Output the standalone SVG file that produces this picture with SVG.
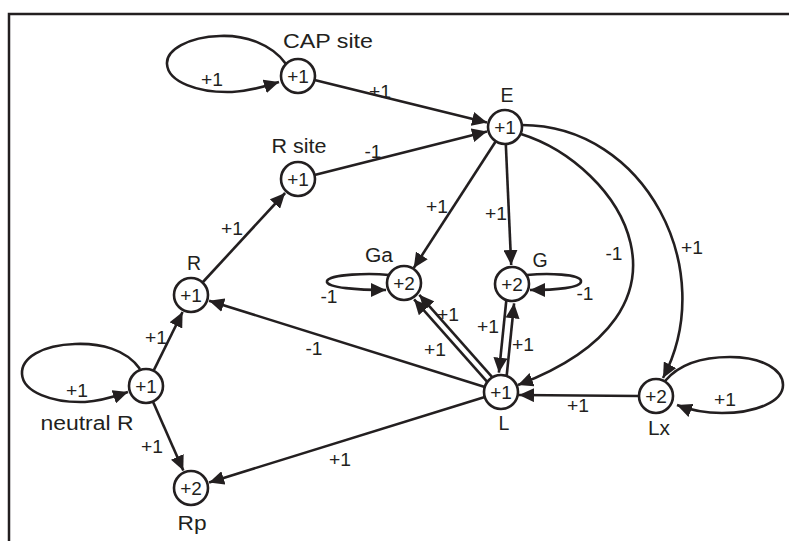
<svg xmlns="http://www.w3.org/2000/svg" width="789" height="541" viewBox="0 0 789 541">
<style>
  .edge { fill: none; stroke: #231f20; stroke-width: 2.6; }
  .node circle { fill: #ffffff; stroke: #231f20; stroke-width: 2.6; }
  text { font-family: "Liberation Sans", Arial, sans-serif; fill: #231f20; text-anchor: middle; }
  .num { font-size: 19px; }
  .name { font-size: 19.5px; }
</style>
<defs>
  <marker id="ah" markerUnits="userSpaceOnUse" markerWidth="16" markerHeight="14" refX="15" refY="7" orient="auto">
    <path d="M0,0 L15,7 L0,14 z" fill="#231f20"/>
  </marker>
</defs>
<rect x="0" y="0" width="789" height="541" fill="#ffffff"/>
<path d="M9 541 V14 H789" fill="none" stroke="#231f20" stroke-width="2.5"/>

<g id="connectors">
  <!-- self loops -->
  <path class="edge" marker-end="url(#ah)" d="M286 64 C272 44 245 35 220 36 C188 37 166 50 167 64 C168 82 198 93 232 92 C252 91 266 86 279 82"/>
  <path class="edge" marker-end="url(#ah)" d="M140 369 C126 349 100 343 75 344 C42 345 21 358 22 374 C23 392 52 403 85 402 C102 401 116 396 128 392"/>
  <path class="edge" marker-end="url(#ah)" d="M665 381 C680 363 705 357 730 357 C763 357 783 370 783 385 C783 402 755 413 722 413 C704 413 690 410 677 405"/>
  <path class="edge" marker-end="url(#ah)" d="M389 275 C370 273 330 274 327 281 C325 288 360 290 386 290"/>
  <path class="edge" marker-end="url(#ah)" d="M527 275 C548 273 580 274 581 281 C582 288 555 290 530 290"/>
  <!-- straight edges -->
  <path class="edge" marker-end="url(#ah)" d="M314.5 80.1 L487 122.5"/>
  <path class="edge" marker-end="url(#ah)" d="M314.5 174.9 L487 131.6"/>
  <path class="edge" marker-end="url(#ah)" d="M202.5 282.5 L285.1 193"/>
  <path class="edge" marker-end="url(#ah)" d="M153.5 370.8 L182.6 312"/>
  <path class="edge" marker-end="url(#ah)" d="M152.9 401.6 L183.3 470.6"/>
  <path class="edge" marker-end="url(#ah)" d="M495.8 141.3 L413.7 268"/>
  <path class="edge" marker-end="url(#ah)" d="M505.8 144 L511.2 265"/>
  <path class="edge" marker-end="url(#ah)" d="M484.8 386.9 L209.1 300.7"/>
  <path class="edge" marker-end="url(#ah)" d="M484.8 397 L209.1 482.4"/>
  <path class="edge" marker-end="url(#ah)" d="M639 396 L519 395"/>
  <path class="edge" marker-end="url(#ah)" d="M492.2 377.1 L419.3 294.8"/>
  <path class="edge" marker-end="url(#ah)" d="M487 381.7 L414.1 299.4"/>
  <path class="edge" marker-end="url(#ah)" d="M506.3 300.5 L498.9 372.7"/>
  <path class="edge" marker-end="url(#ah)" d="M506.7 375.5 L514.1 303.3"/>
  <!-- curved edges from E -->
  <path class="edge" marker-end="url(#ah)" d="M521 134 C620 165 715 310 518 385"/>
  <path class="edge" marker-end="url(#ah)" d="M522 125 C645 125 720 270 663 378"/>
</g>

<g id="edge-labels" class="num">
  <text x="212" y="86" textLength="22" lengthAdjust="spacingAndGlyphs">+1</text>
  <text x="380" y="98" textLength="22" lengthAdjust="spacingAndGlyphs">+1</text>
  <text x="373" y="158" textLength="17" lengthAdjust="spacingAndGlyphs">-1</text>
  <text x="232" y="235" textLength="22" lengthAdjust="spacingAndGlyphs">+1</text>
  <text x="156" y="344" textLength="22" lengthAdjust="spacingAndGlyphs">+1</text>
  <text x="77" y="397" textLength="22" lengthAdjust="spacingAndGlyphs">+1</text>
  <text x="152" y="453" textLength="22" lengthAdjust="spacingAndGlyphs">+1</text>
  <text x="437" y="213" textLength="22" lengthAdjust="spacingAndGlyphs">+1</text>
  <text x="496" y="220" textLength="22" lengthAdjust="spacingAndGlyphs">+1</text>
  <text x="329" y="303" textLength="17" lengthAdjust="spacingAndGlyphs">-1</text>
  <text x="585" y="300" textLength="17" lengthAdjust="spacingAndGlyphs">-1</text>
  <text x="614" y="260" textLength="17" lengthAdjust="spacingAndGlyphs">-1</text>
  <text x="692" y="254" textLength="22" lengthAdjust="spacingAndGlyphs">+1</text>
  <text x="448" y="321" textLength="22" lengthAdjust="spacingAndGlyphs">+1</text>
  <text x="435" y="356" textLength="22" lengthAdjust="spacingAndGlyphs">+1</text>
  <text x="488" y="333" textLength="22" lengthAdjust="spacingAndGlyphs">+1</text>
  <text x="523" y="351" textLength="22" lengthAdjust="spacingAndGlyphs">+1</text>
  <text x="314" y="355" textLength="17" lengthAdjust="spacingAndGlyphs">-1</text>
  <text x="340" y="466" textLength="22" lengthAdjust="spacingAndGlyphs">+1</text>
  <text x="578" y="412" textLength="22" lengthAdjust="spacingAndGlyphs">+1</text>
  <text x="725" y="406" textLength="22" lengthAdjust="spacingAndGlyphs">+1</text>
</g>

<g id="node-cap" class="node">
  <circle cx="298" cy="76" r="17"/>
  <text class="num" x="298" y="83">+1</text>
  <text class="name" x="328" y="48" textLength="90" lengthAdjust="spacingAndGlyphs">CAP site</text>
</g>
<g id="node-e" class="node">
  <circle cx="505" cy="127" r="17"/>
  <text class="num" x="505" y="134">+1</text>
  <text class="name" x="507" y="102">E</text>
</g>
<g id="node-rsite" class="node">
  <circle cx="298" cy="179" r="17"/>
  <text class="num" x="298" y="186">+1</text>
  <text class="name" x="299" y="153" textLength="55" lengthAdjust="spacingAndGlyphs">R site</text>
</g>
<g id="node-r" class="node">
  <circle cx="191" cy="295" r="17"/>
  <text class="num" x="191" y="302">+1</text>
  <text class="name" x="194" y="270">R</text>
</g>
<g id="node-neutralr" class="node">
  <circle cx="146" cy="386" r="17"/>
  <text class="num" x="146" y="393">+1</text>
  <text class="name" x="87" y="430" textLength="93" lengthAdjust="spacingAndGlyphs">neutral R</text>
</g>
<g id="node-rp" class="node">
  <circle cx="191" cy="488" r="17"/>
  <text class="num" x="191" y="495">+2</text>
  <text class="name" x="192" y="530" textLength="29" lengthAdjust="spacingAndGlyphs">Rp</text>
</g>
<g id="node-ga" class="node">
  <circle cx="404" cy="283" r="17"/>
  <text class="num" x="404" y="290">+2</text>
  <text class="name" x="379" y="262" textLength="28" lengthAdjust="spacingAndGlyphs">Ga</text>
</g>
<g id="node-g" class="node">
  <circle cx="512" cy="284" r="17"/>
  <text class="num" x="512" y="291">+2</text>
  <text class="name" x="540" y="267">G</text>
</g>
<g id="node-l" class="node">
  <circle cx="501" cy="392" r="17"/>
  <text class="num" x="501" y="399">+1</text>
  <text class="name" x="504" y="430">L</text>
</g>
<g id="node-lx" class="node">
  <circle cx="656" cy="396" r="17"/>
  <text class="num" x="656" y="403">+2</text>
  <text class="name" x="659" y="435" textLength="22" lengthAdjust="spacingAndGlyphs">Lx</text>
</g>
</svg>
